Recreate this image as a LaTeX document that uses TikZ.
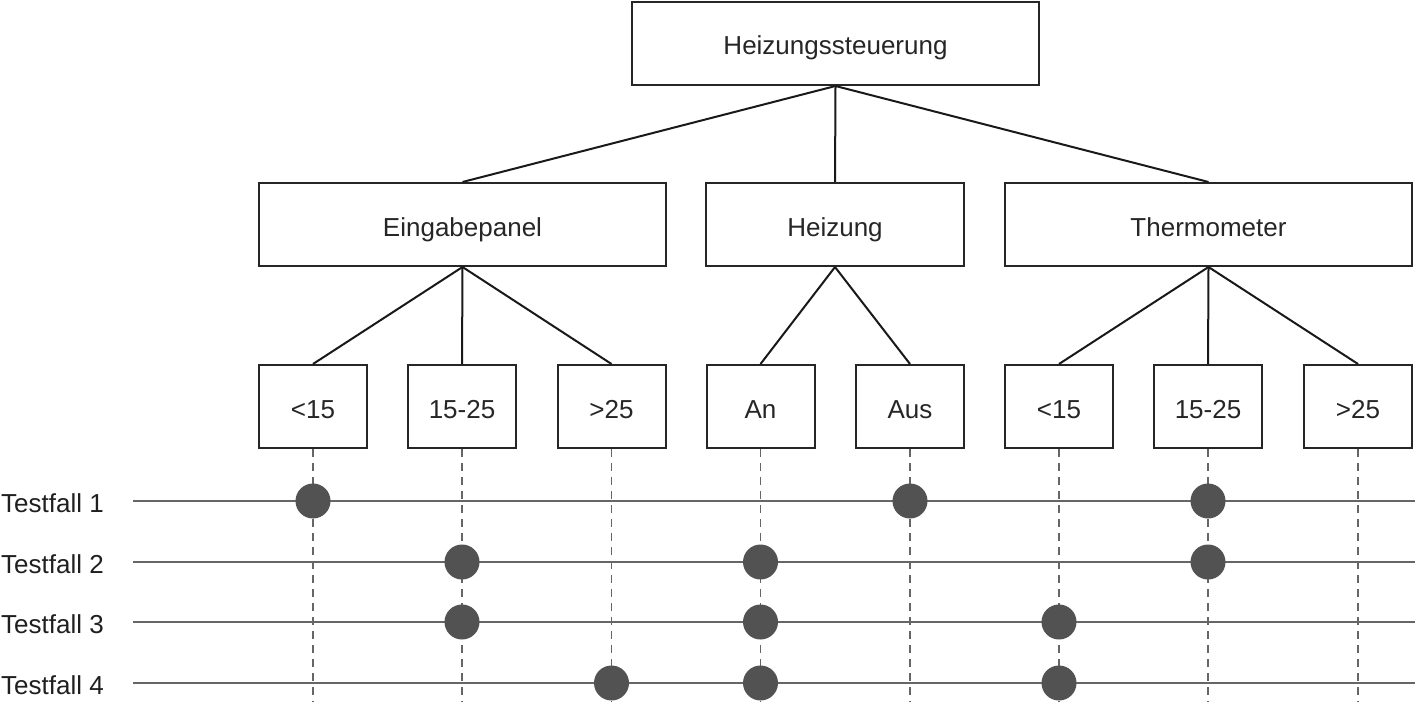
\documentclass[tikz,border=0pt]{standalone}
\usepackage{fontspec}
\setmainfont{Liberation Sans}
\begin{document}
\begin{tikzpicture}[x=1pt,y=-1pt,
  box/.style={draw=black!85,line width=2pt,fill=white,inner sep=0pt,minimum height=83pt,font=\fontsize{26}{30}\selectfont,text=black!85,text height=23pt,text depth=0pt},
  wide/.style={box,minimum width=407pt},
  small/.style={box,minimum width=108pt},
  edge/.style={draw=black!90,line width=2pt},
  row/.style={draw=black!60,line width=2pt},
  vline/.style={draw=black!60,line width=1.6pt,dash pattern=on 8pt off 6pt},
  dot/.style={circle,fill=black!68,inner sep=0pt,minimum size=35pt},
  lbl/.style={anchor=west,inner sep=0pt,font=\fontsize{26}{30}\selectfont,text=black!88,text height=23pt,text depth=0pt}]
\useasboundingbox (0,0) rectangle (1415,717);
% tree
\node[wide] (root) at (835.5,43.5) {Heizungssteuerung};
\node[wide] (ein) at (462.5,224.5) {Eingabepanel};
\node[box,minimum width=258pt] (hei) at (835,224.5) {Heizung};
\node[wide] (the) at (1208.5,224.5) {Thermometer};
\node[small] (e1) at (313,406.5) {<15};
\node[small] (e2) at (462,406.5) {15-25};
\node[small] (e3) at (611.5,406.5) {>25};
\node[small] (h1) at (760.5,406.5) {An};
\node[small] (h2) at (910,406.5) {Aus};
\node[small] (t1) at (1059,406.5) {<15};
\node[small] (t2) at (1208,406.5) {15-25};
\node[small] (t3) at (1358,406.5) {>25};
\draw[edge] (root.south) -- (ein.north);
\draw[edge] (root.south) -- (hei.north);
\draw[edge] (root.south) -- (the.north);
\draw[edge] (ein.south) -- (e1.north);
\draw[edge] (ein.south) -- (e2.north);
\draw[edge] (ein.south) -- (e3.north);
\draw[edge] (hei.south) -- (h1.north);
\draw[edge] (hei.south) -- (h2.north);
\draw[edge] (the.south) -- (t1.north);
\draw[edge] (the.south) -- (t2.north);
\draw[edge] (the.south) -- (t3.north);
% test rows
\foreach \i/\y in {1/501,2/562,3/622,4/683}{
  \node[lbl] (l\i) at (1,\y) {Testfall \i};
  \coordinate (ra\i) at (133,\y);
  \coordinate (rb\i) at (1415,\y);
  \draw[row] (ra\i) -- (rb\i);
}
\foreach \n in {e1,e2,e3,h1,h2,t1,t2,t3}{
  \coordinate (\n end) at (\n.south |- 0,702);
  \draw[vline] (\n.south) -- (\n end);
}
% dots
\foreach \n/\i in {e1/1,h2/1,t2/1,e2/2,h1/2,t2/2,e2/3,h1/3,t1/3,e3/4,h1/4,t1/4}{
  \node[dot] at (\n.south |- ra\i) {};
}
\end{tikzpicture}
\end{document}
